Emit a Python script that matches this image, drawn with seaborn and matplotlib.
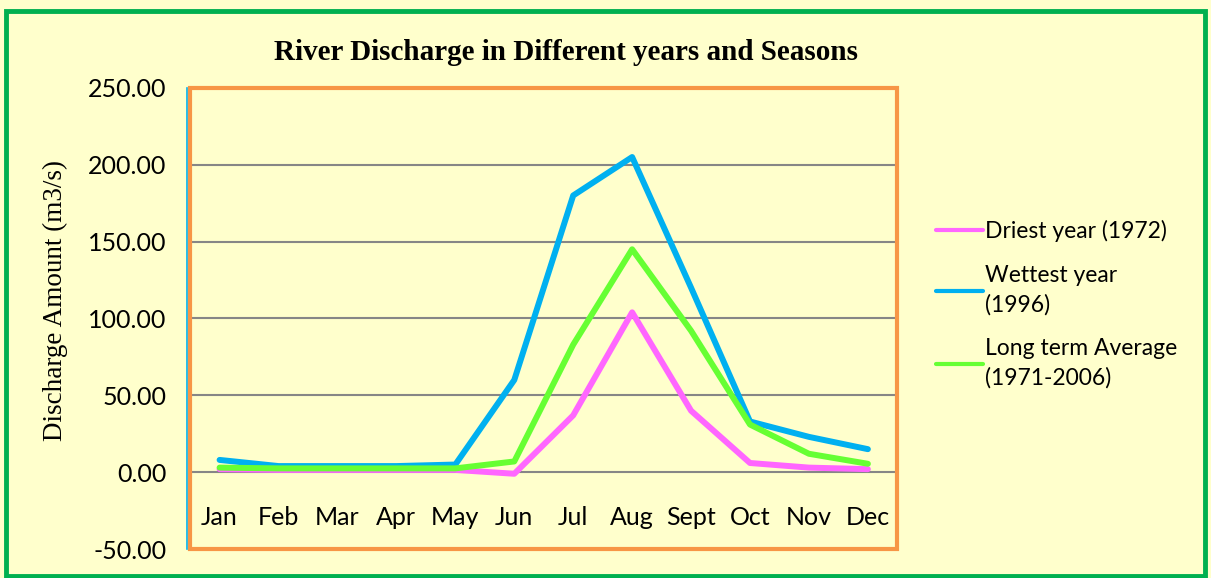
import pandas as pd
import matplotlib.pyplot as plt
import seaborn as sns
from matplotlib.patches import Rectangle
from matplotlib.ticker import FormatStrFormatter

# Maanden en afvoerwaarden (m3/s)
months = ['Jan', 'Feb', 'Mar', 'Apr', 'May', 'Jun', 'Jul', 'Aug', 'Sept', 'Oct', 'Nov', 'Dec']
driest_1972 = [2, 1.5, 1.5, 1.5, 1.5, -1, 37, 104, 40, 6, 3, 2]
wettest_1996 = [8, 4, 4, 4, 5, 60, 180, 205, 120, 33, 23, 15]
long_term_avg = [3, 2.5, 2.5, 2.5, 2.5, 7, 83, 145, 92, 31, 12, 5.5]

series_names = ['Driest year (1972)', 'Wettest year\n(1996)', 'Long term Average\n(1971-2006)']
series_colors = ['#FF66FF', '#00B0F0', '#66FF33']
y_ticks = [-50, 0, 50, 100, 150, 200, 250]

# Lange tabel voor seaborn
df = pd.DataFrame({
    'Month': months * 3,
    'Discharge': driest_1972 + wettest_1996 + long_term_avg,
    'Series': [series_names[0]] * 12 + [series_names[1]] * 12 + [series_names[2]] * 12,
})

bg = '#FFFFCC'
fig = plt.figure(figsize=(12.11, 5.78), dpi=100, facecolor=bg)
ax = fig.add_axes([0.157, 0.050, 0.584, 0.798])
ax.set_facecolor(bg)

sns.lineplot(data=df, x='Month', y='Discharge', hue='Series', palette=series_colors,
             linewidth=4.3, sort=False, ax=ax, zorder=3)
for line in ax.get_lines():
    line.set_solid_capstyle('round')
    line.set_solid_joinstyle('round')

ax.set_xlim(-0.5, 11.5)
ax.set_ylim(-50, 250)
ax.set_yticks(y_ticks)
ax.yaxis.set_major_formatter(FormatStrFormatter('%.2f'))

# Rasterlijnen (niet op de randen)
for v in y_ticks[2:-1]:
    ax.axhline(v, color='#868686', linewidth=1.5, zorder=1)

# x-as loopt door nul, labels eronder binnen het plotvlak
ax.spines['bottom'].set_position(('data', 0))
ax.spines['bottom'].set_color('#868686')
ax.spines['bottom'].set_linewidth(1.5)
ax.spines['top'].set_visible(False)
ax.spines['right'].set_visible(False)
ax.spines['left'].set_color('#00B0F0')
ax.spines['left'].set_linewidth(1.2)
ax.spines['left'].set_position(('outward', 2))

ax.tick_params(axis='x', length=0, pad=24, labelsize=18)
ax.tick_params(axis='y', length=0, pad=15, labelsize=18)
for lbl in ax.get_xticklabels() + ax.get_yticklabels():
    lbl.set_fontfamily('Lato')

ax.set_xlabel('')
ax.set_ylabel('Discharge Amount (m3/s)', fontsize=19.5, family='Liberation Serif')
ax.yaxis.set_label_coords(-0.172, 0.54)

# Oranje kader rond het plotvlak
ax.add_patch(Rectangle((0, 0), 1, 1, transform=ax.transAxes, fill=False,
                       edgecolor='#F79646', linewidth=3, clip_on=False, zorder=5))

# Groene rand rond de figuur
fig.patches.append(Rectangle((0.005, 0.004), 0.99, 0.977, transform=fig.transFigure,
                             fill=False, edgecolor='#00B050', linewidth=3.5))

fig.text(0.467, 0.91, 'River Discharge in Different years and Seasons', ha='center', va='center',
         fontsize=21, weight='bold', family='Liberation Serif')

leg = ax.legend(loc='upper left', bbox_to_anchor=(0.756, 0.655), bbox_transform=fig.transFigure,
                frameon=False, handlelength=2.05, handletextpad=0.1,
                labelspacing=1.0, prop={'family': 'Lato', 'size': 16.5})
for h in leg.get_lines():
    h.set_linewidth(3)
for t in leg.get_texts():
    t.set_linespacing(1.45)

fig.savefig('out.png', dpi=100, facecolor=bg)
